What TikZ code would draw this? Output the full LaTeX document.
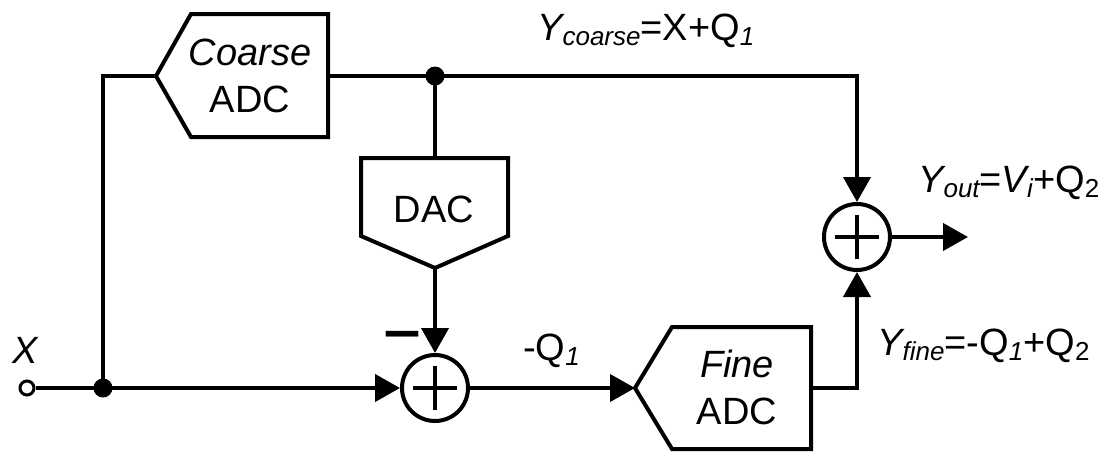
\documentclass[tikz,border=0pt]{standalone}
\usepackage{fontspec}
\setmainfont{Liberation Sans}
\usetikzlibrary{arrows.meta}
\newcommand\mysb[1]{\raisebox{-5pt}{\fontsize{26}{26}\selectfont #1}}
\begin{document}
\begin{tikzpicture}[x=1pt,y=-1pt,
  wire/.style={line width=4pt, line join=miter},
  arr/.style={wire,-{Triangle[length=25pt,width=27pt]}},
  blk/.style={draw, line width=4pt, line join=miter, fill=white},
  txt/.style={font=\fontsize{38}{47}\selectfont, align=center, inner sep=0},
  lbl/.style={font=\fontsize{38}{46}\selectfont, anchor=base west, inner sep=0},
  sumc/.style={circle, draw, line width=4pt, minimum size=66pt, inner sep=0},
  jdot/.style={circle, fill, minimum size=19pt, inner sep=0},
]
\useasboundingbox (0,0) rectangle (1109,453);

% blocks
\draw[blk] (156,76) -- (191,14) -- (328,14) -- (328,137) -- (191,137) -- cycle;
\draw[blk] (361,158) -- (508,158) -- (508,236) -- (435,268) -- (361,236) -- cycle;
\draw[blk] (635,388) -- (672,327) -- (811,327) -- (811,449) -- (672,449) -- cycle;
\node[txt] (cadc) at (250,76) {\textit{Coarse}\\ADC};
\node[txt] (dac) at (434,209) {DAC};
\node[txt] (fadc) at (737,387) {\textit{Fine}\\ADC};

\coordinate (cin) at (156,76);
\coordinate (cout) at (328,76);
\coordinate (dactop) at (435,158);
\coordinate (dactip) at (435,268);
\coordinate (fin) at (635,388);
\coordinate (fout) at (811,388);
\coordinate (jx) at (103,388);
\coordinate (jt) at (435,76);
\coordinate (yo) at (968,237);

% summers
\node[sumc] (s1) at (435,388) {};
\node[sumc] (s2) at (857,237) {};
\draw[line width=4pt] (s1.center) +(-22,0) -- +(22,0) (s1.center) +(0,-22) -- +(0,22);
\draw[line width=4pt] (s2.center) +(-22,0) -- +(22,0) (s2.center) +(0,-22) -- +(0,22);

% input terminal
\node[circle, draw, line width=3pt, minimum size=14pt, inner sep=0, fill=white] (xin) at (27,388) {};

% wires
\draw[wire] (xin) -- (jx);
\draw[wire] (jx) |- (cin);
\draw[arr] (jx) -- (s1.west);
\draw[wire] (cout) -- (jt);
\draw[arr] (jt) -| (s2.north);
\draw[wire] (jt) -- (dactop);
\draw[arr] (dactip) -- (s1.north);
\draw[arr] (s1.east) -- (fin);
\draw[arr] (fout) -| (s2.south);
\draw[arr] (s2.east) -- (yo);

\node[jdot] (jxd) at (jx) {};
\node[jdot] (jtd) at (jt) {};

% labels
\node[lbl] (xl) at (12,363) {\textit{X}};
\node[lbl] (yc) at (537,40) {\textit{Y\mysb{coarse}}=X+Q\mysb{\textit{1}}};
\node[lbl] (yol) at (918,192) {\textit{Y\mysb{out}}=\textit{V\mysb{i}}+Q\mysb{2}};
\node[lbl] (yf) at (877,355) {\textit{Y\mysb{fine}}=-Q\mysb{\textit{1}}+Q\mysb{2}};
\node[lbl] (q1) at (523,360) {-Q\mysb{\textit{1}}};
\node[inner sep=0, font=\fontsize{52}{52}\selectfont\bfseries] (minus) at (402,341) {\scalebox{1.25}[1]{−}};
\end{tikzpicture}
\end{document}
